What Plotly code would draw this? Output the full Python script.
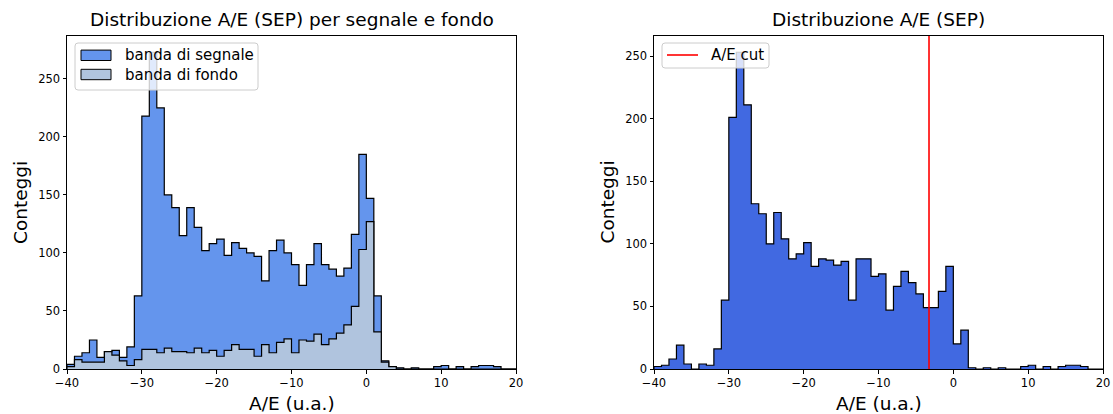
import numpy as np
import plotly.graph_objects as go

# ---------------- data ----------------
BIN_LO, BIN_HI, BIN_W = -40, 20, 1

signal_band = [4, 11, 14, 25, 10, 15, 16, 10, 19, 63,
               218, 273, 225, 150, 139, 115, 139, 122, 102, 108,
               112, 98, 109, 104, 100, 97, 76, 102, 111, 100,
               90, 72, 90, 108, 90, 86, 80, 87, 116, 185,
               147, 63, 7, 2, 1, 0, 1, 0, 0, 2,
               3, 0, 2, 0, 2, 3, 3, 2, 0, 0]

background_band = [2, 8, 6, 6, 6, 15, 12, 7, 3, 8,
                   17, 17, 14, 18, 15, 15, 14, 18, 14, 16,
                   11, 16, 21, 17, 17, 11, 21, 14, 23, 26,
                   14, 25, 24, 30, 21, 26, 31, 38, 54, 103,
                   127, 32, 6, 2, 0, 0, 0, 0, 0, 0,
                   0, 0, 0, 0, 0, 0, 0, 0, 0, 0]

sep_counts = [2, 3, 8, 19, 4, 0, 4, 3, 16, 55,
              201, 253, 211, 132, 124, 100, 125, 104, 88, 92,
              101, 82, 88, 87, 83, 86, 55, 88, 88, 74,
              76, 47, 66, 78, 69, 60, 49, 49, 62, 82,
              20, 31, 1, 0, 1, 0, 1, 0, 0, 2,
              3, 0, 2, 0, 2, 3, 3, 2, 0, 0]

AE_CUT = -3.25

x_tickvals = [-40, -30, -20, -10, 0, 10, 20]
x_ticktext = ["\u221240", "\u221230", "\u221220", "\u221210", "0", "10", "20"]
y_tickvals = [0, 50, 100, 150, 200, 250]

titles = ["Distribuzione A/E (SEP) per segnale e fondo", "Distribuzione A/E (SEP)"]
xlabel = "A/E (u.a.)"
ylabel = "Conteggi"
legend_left = ["banda di segnale", "banda di fondo"]
legend_right = "A/E cut"

# ---------------- styling ----------------
C_SIG = "#6495ED"     # cornflowerblue
C_BKG = "#B0C4DE"     # lightsteelblue
C_SEP = "#4169E1"     # royalblue
FONT = "DejaVu Sans"

W, H = 1113, 414
ML, MR, MT, MB = 67, 10, 36, 45
PW = W - ML - MR
PH = H - MT - MB
AX_W = 449
LEFT_AX_X0 = 67
RIGHT_AX_X0 = 654

edges = np.arange(BIN_LO, BIN_HI + BIN_W, BIN_W)


def step_xy(counts):
    x = [edges[0]] + list(edges) + [edges[-1]]
    y = [0] + list(counts) + [counts[-1], 0]
    return x, y


fig = go.Figure()

for counts, col, xa, ya in [(signal_band, C_SIG, "x", "y"),
                            (background_band, C_BKG, "x", "y"),
                            (sep_counts, C_SEP, "x2", "y2")]:
    sx, sy = step_xy(counts)
    fig.add_trace(go.Scatter(x=sx, y=sy, mode="lines",
                             line=dict(shape="hv", color="black", width=1.2),
                             fill="tozeroy", fillcolor=col,
                             xaxis=xa, yaxis=ya, showlegend=False,
                             hoverinfo="skip"))

axis_common = dict(showgrid=False, zeroline=False, showline=True, linecolor="black",
                   linewidth=1, mirror=True, ticks="outside", ticklen=3.5,
                   tickwidth=0.8, tickcolor="black", automargin=False,
                   tickfont=dict(family=FONT, size=11.5, color="black"))

d_left = [0, (LEFT_AX_X0 + AX_W - ML) / PW]
d_right = [(RIGHT_AX_X0 - ML) / PW, 1]

fig.update_layout(
    width=W, height=H,
    margin=dict(l=ML, r=MR, t=MT, b=MB, autoexpand=False),
    paper_bgcolor="white", plot_bgcolor="white",
    font=dict(family=FONT, color="black"),
    showlegend=False,
    xaxis=dict(domain=d_left, range=[BIN_LO, BIN_HI], anchor="y",
               tickvals=x_tickvals, ticktext=x_ticktext, **axis_common),
    yaxis=dict(domain=[0, 1], range=[0, 287], anchor="x",
               tickvals=y_tickvals, **axis_common),
    xaxis2=dict(domain=d_right, range=[BIN_LO, BIN_HI], anchor="y2",
                tickvals=x_tickvals, ticktext=x_ticktext, **axis_common),
    yaxis2=dict(domain=[0, 1], range=[0, 266], anchor="x2",
                tickvals=y_tickvals, **axis_common),
)


def rounded_path(x0p, y0p, x1p, y1p, ax_x0, r=3):
    # pixel box -> domain path with rounded corners
    def X(p):
        return (p - ax_x0) / AX_W

    def Y(p):
        return (MT + PH - p) / PH
    pts = (f"M {X(x0p + r)},{Y(y0p)} L {X(x1p - r)},{Y(y0p)} "
           f"Q {X(x1p)},{Y(y0p)} {X(x1p)},{Y(y0p + r)} "
           f"L {X(x1p)},{Y(y1p - r)} Q {X(x1p)},{Y(y1p)} {X(x1p - r)},{Y(y1p)} "
           f"L {X(x0p + r)},{Y(y1p)} Q {X(x0p)},{Y(y1p)} {X(x0p)},{Y(y1p - r)} "
           f"L {X(x0p)},{Y(y0p + r)} Q {X(x0p)},{Y(y0p)} {X(x0p + r)},{Y(y0p)} Z")
    return pts


shapes = []
annotations = []

# A/E cut line
shapes.append(dict(type="line", xref="x2", yref="y2 domain", x0=AE_CUT, x1=AE_CUT,
                   y0=0, y1=1, line=dict(color="red", width=1.6), layer="above"))

# left legend
shapes.append(dict(type="path", xref="x domain", yref="y domain",
                   path=rounded_path(75, 43, 258, 90, LEFT_AX_X0),
                   fillcolor="rgba(255,255,255,0.8)",
                   line=dict(color="#cccccc", width=1), layer="above"))
for yc, col in [(55.3, C_SIG), (74.5, C_BKG)]:
    X0, Y0 = (81 - LEFT_AX_X0) / AX_W, (MT + PH - (yc - 5.2)) / PH
    X1, Y1 = (111 - LEFT_AX_X0) / AX_W, (MT + PH - (yc + 5.2)) / PH
    shapes.append(dict(type="rect", xref="x domain", yref="y domain",
                       x0=X0, x1=X1, y0=Y1, y1=Y0, fillcolor=col,
                       line=dict(color="black", width=1), layer="above"))
for yc, txt in zip([55.3, 74.5], legend_left):
    annotations.append(dict(text=txt, xref="x domain", yref="y domain",
                            x=(123 - LEFT_AX_X0) / AX_W, y=(MT + PH - yc) / PH,
                            xanchor="left", yanchor="middle", showarrow=False,
                            font=dict(family=FONT, size=15, color="black")))

# right legend
shapes.append(dict(type="path", xref="x2 domain", yref="y2 domain",
                   path=rounded_path(662, 43, 769, 68, RIGHT_AX_X0),
                   fillcolor="rgba(255,255,255,0.8)",
                   line=dict(color="#cccccc", width=1), layer="above"))
shapes.append(dict(type="line", xref="x2 domain", yref="y2 domain",
                   x0=(667 - RIGHT_AX_X0) / AX_W, x1=(698 - RIGHT_AX_X0) / AX_W,
                   y0=(MT + PH - 55) / PH, y1=(MT + PH - 55) / PH,
                   line=dict(color="red", width=1.6), layer="above"))
annotations.append(dict(text=legend_right, xref="x2 domain", yref="y2 domain",
                        x=(709 - RIGHT_AX_X0) / AX_W, y=(MT + PH - 55.5) / PH,
                        xanchor="left", yanchor="middle", showarrow=False,
                        font=dict(family=FONT, size=15, color="black")))

# titles and axis labels
for d, t in zip([d_left, d_right], titles):
    xc = (d[0] + d[1]) / 2
    annotations.append(dict(text=t, xref="paper", yref="paper", x=xc,
                            y=(MT + PH - 20) / PH, xanchor="center", yanchor="middle",
                            showarrow=False, font=dict(family=FONT, size=18.5, color="black")))
    annotations.append(dict(text=xlabel, xref="paper", yref="paper", x=xc,
                            y=(MT + PH - 403) / PH, xanchor="center", yanchor="middle",
                            showarrow=False, font=dict(family=FONT, size=18.5, color="black")))

for px in [20.5, 607]:
    annotations.append(dict(text=ylabel, xref="paper", yref="paper",
                            x=(px - ML) / PW, y=0.5, xanchor="center", yanchor="middle",
                            textangle=-90, showarrow=False,
                            font=dict(family=FONT, size=18.5, color="black")))

fig.update_layout(shapes=shapes, annotations=annotations)

fig.write_html("out.html",
               config={"displayModeBar": False},
               post_script="document.body.style.margin='0';document.body.style.padding='0';")
